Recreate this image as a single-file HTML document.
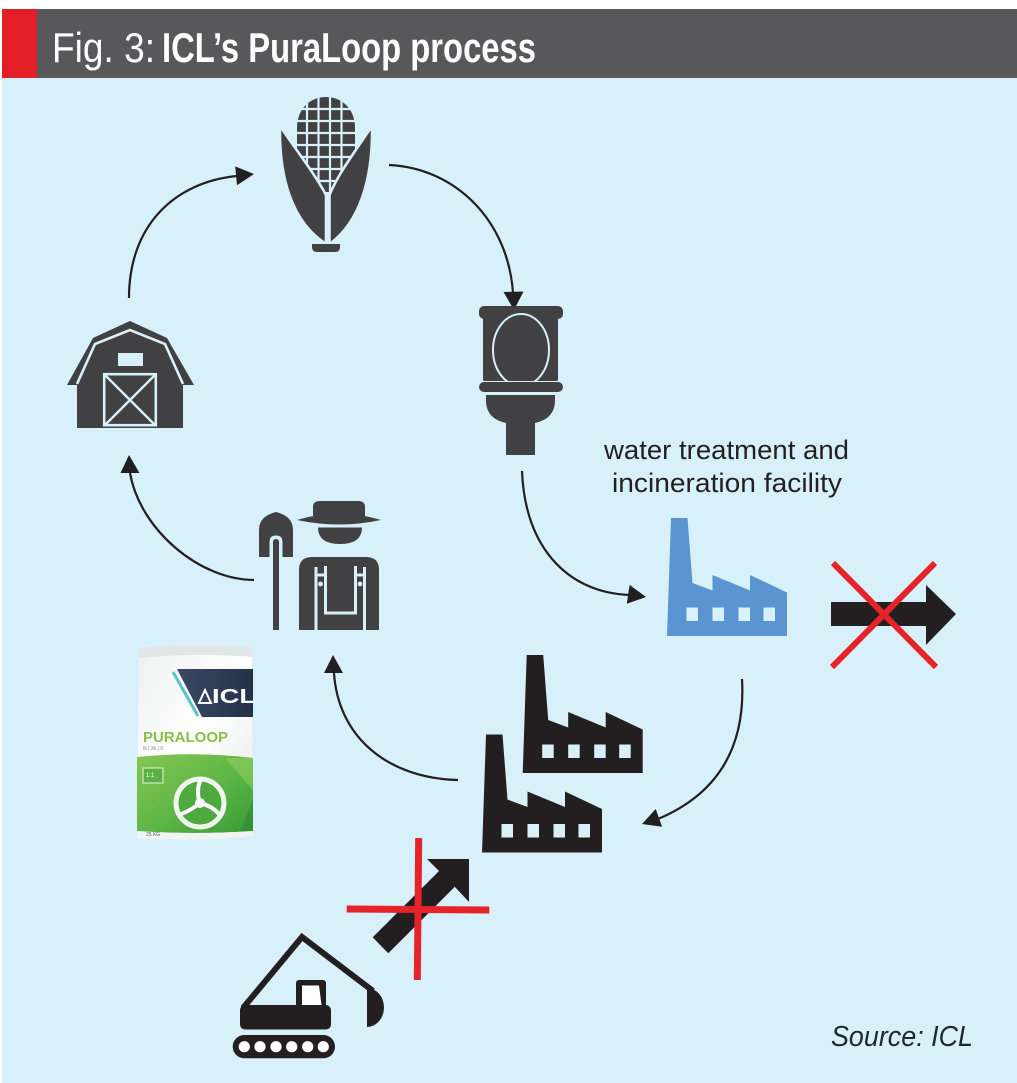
<!DOCTYPE html>
<html><head><meta charset="utf-8">
<style>
html,body{margin:0;padding:0;background:#fff;}
svg{display:block;}
</style></head>
<body>
<svg width="1017" height="1083" viewBox="0 0 1017 1083" xmlns="http://www.w3.org/2000/svg">
<defs>
<linearGradient id="bagW" x1="0" y1="0" x2="1" y2="1">
<stop offset="0" stop-color="#eef0ef"/><stop offset="0.5" stop-color="#ffffff"/><stop offset="1" stop-color="#e4e7e6"/>
</linearGradient>
<linearGradient id="navy" x1="0" y1="0" x2="1" y2="0">
<stop offset="0" stop-color="#3a4964"/><stop offset="1" stop-color="#243149"/>
</linearGradient>
<linearGradient id="grn" x1="0" y1="0" x2="1" y2="1">
<stop offset="0" stop-color="#86c653"/><stop offset="0.55" stop-color="#5cb545"/><stop offset="1" stop-color="#3a9b38"/>
</linearGradient>
</defs>

<!-- background -->
<rect x="0" y="0" width="1017" height="1083" fill="#ffffff"/>
<rect x="2" y="78" width="1015" height="1005" fill="#d8f0fa"/>
<!-- header -->
<rect x="2" y="9" width="1015" height="69" fill="#58585a"/>
<rect x="2" y="9" width="35" height="69" fill="#e31e26"/>
<text x="52" y="62" font-family="'Liberation Sans Narrow','Liberation Sans',sans-serif" font-size="42" fill="#ffffff" textLength="103" lengthAdjust="spacingAndGlyphs">Fig. 3:</text>
<text x="162" y="62" font-family="'Liberation Sans Narrow','Liberation Sans',sans-serif" font-size="42" font-weight="bold" fill="#ffffff" textLength="374" lengthAdjust="spacingAndGlyphs">ICL’s PuraLoop process</text>

<!-- arrows -->
<g fill="none" stroke="#231f20" stroke-width="2.2">
<path d="M129,298 C129,225 175,182 237,176"/>
<path d="M389,165 C455,168 508,220 513,293"/>
<path d="M522,471 C525,545 565,592 629,595"/>
<path d="M742,679 C746,750 715,795 658,819"/>
<path d="M458,780 C385,778 338,735 334,673"/>
<path d="M254,580 C200,580 140,530 130,473"/>
</g>
<g fill="#231f20">
<polygon points="254,174 235.2,166.4 237,185.3"/>
<polygon points="514,310 503.5,292 523.5,291.5"/>
<polygon points="646,597 629.6,584.9 626.8,603.7"/>
<polygon points="642,824 655.7,809 662.1,826.8"/>
<polygon points="333,655 324,673 343,673"/>
<polygon points="129,455 120.5,473 139.5,473"/>
</g>

<!-- corn -->
<g>
<path d="M297,192 L297,128 C297,108 311,97 326,97 C341,97 355,108 355,128 L355,192 Z" fill="#414042"/>
<g stroke="#d8f0fa" stroke-width="2.2">
<line x1="307" y1="95" x2="307" y2="195"/>
<line x1="318.5" y1="95" x2="318.5" y2="195"/>
<line x1="330" y1="95" x2="330" y2="195"/>
<line x1="341.5" y1="95" x2="341.5" y2="195"/>
<line x1="295" y1="109" x2="357" y2="109"/>
<line x1="295" y1="121" x2="357" y2="121"/>
<line x1="295" y1="133" x2="357" y2="133"/>
<line x1="295" y1="145" x2="357" y2="145"/>
<line x1="295" y1="157" x2="357" y2="157"/>
<line x1="295" y1="169" x2="357" y2="169"/>
<line x1="295" y1="181" x2="357" y2="181"/>
</g>
<path d="M280,126 C279,178 292,222 326,244 L326,195 C315,174 296,150 280,126 Z" fill="#414042" stroke="#d8f0fa" stroke-width="2.6" stroke-linejoin="round"/>
<path d="M372,126 C373,178 360,222 329.5,244 L329.5,195 C338,174 356,150 372,126 Z" fill="#414042" stroke="#d8f0fa" stroke-width="2.6" stroke-linejoin="round"/>
<path d="M312,244 L340,244 L340,247 Q340,252 335,252 L317,252 Q312,252 312,247 Z" fill="#414042"/>
</g>

<!-- barn -->
<g>
<polygon points="67,385 93,338 130,321 167,338 194,385 183,385 183,428 77,428 77,385" fill="#414042"/>
<polyline points="77,384 95,344 130,330 165,344 183,384" fill="none" stroke="#d8f0fa" stroke-width="2.6" stroke-linejoin="miter"/>
<rect x="118" y="353" width="25" height="13" fill="#d8f0fa"/>
<rect x="104.2" y="374.2" width="51.6" height="51" fill="none" stroke="#d8f0fa" stroke-width="2.6"/>
<line x1="105" y1="375" x2="155" y2="425" stroke="#d8f0fa" stroke-width="2.4"/>
<line x1="155" y1="375" x2="105" y2="425" stroke="#d8f0fa" stroke-width="2.4"/>
</g>

<!-- toilet -->
<g fill="#414042">
<rect x="483" y="314" width="75" height="69" rx="4"/>
<rect x="479" y="306" width="84" height="13" rx="5"/>
<ellipse cx="521" cy="350" rx="28" ry="36" fill="none" stroke="#d8f0fa" stroke-width="2"/>
<rect x="477" y="381" width="88" height="12" fill="#d8f0fa"/>
<rect x="479" y="382" width="84" height="10" rx="5"/>
<path d="M486,395 L555,395 L555,400 C555,413 548,420 535,423 L535,455 L506,455 L506,423 C493,420 486,413 486,400 Z"/>
</g>

<!-- text label -->
<text x="604" y="459" font-family="'Liberation Sans Narrow','Liberation Sans',sans-serif" font-size="27" fill="#231f20" textLength="245" lengthAdjust="spacingAndGlyphs">water treatment and</text>
<text x="612" y="492" font-family="'Liberation Sans Narrow','Liberation Sans',sans-serif" font-size="27" fill="#231f20" textLength="230" lengthAdjust="spacingAndGlyphs">incineration facility</text>

<!-- blue factory -->
<g transform="translate(667,518)">
<path d="M4,0 L20.5,0 L25.5,65 L45.5,72.5 L45.5,57 L83,72.5 L83,57 L120,74.5 L120,118 L0,118 Z" fill="#5a95d2"/>
<g fill="#d8f0fa">
<rect x="19.5" y="89.5" width="11.5" height="13.5"/>
<rect x="45.5" y="89.5" width="11.5" height="13.5"/>
<rect x="71.5" y="89.5" width="11.5" height="13.5"/>
<rect x="96.5" y="89.5" width="11.5" height="13.5"/>
</g>
</g>

<!-- back black factory -->
<g transform="translate(522.7,655)">
<path d="M4,0 L20.5,0 L25.5,65 L45.5,72.5 L45.5,57 L83,72.5 L83,57 L120,74.5 L120,118 L0,118 Z" fill="#231f20"/>
<g fill="#d8f0fa">
<rect x="19.5" y="89.5" width="11.5" height="13.5"/>
<rect x="45.5" y="89.5" width="11.5" height="13.5"/>
<rect x="71.5" y="89.5" width="11.5" height="13.5"/>
<rect x="96.5" y="89.5" width="11.5" height="13.5"/>
</g>
</g>
<!-- front black factory -->
<g transform="translate(482,734.5)">
<path d="M4,0 L20.5,0 L25.5,65 L45.5,72.5 L45.5,57 L83,72.5 L83,57 L120,74.5 L120,118 L0,118 Z" fill="#231f20"/>
<g fill="#d8f0fa">
<rect x="19.5" y="89.5" width="11.5" height="13.5"/>
<rect x="45.5" y="89.5" width="11.5" height="13.5"/>
<rect x="71.5" y="89.5" width="11.5" height="13.5"/>
<rect x="96.5" y="89.5" width="11.5" height="13.5"/>
</g>
</g>

<!-- crossed right arrow -->
<polygon points="831,602 926,602 926,585 956,614 926,645 926,626 831,626" fill="#231f20"/>
<g stroke="#e52329" stroke-width="6">
<line x1="833" y1="563" x2="936" y2="667"/>
<line x1="935" y1="563" x2="832" y2="667"/>
</g>

<!-- farmer -->
<g fill="#414042">
<path d="M259,557 L259,530 Q259,516 276,512 Q293,516 293,530 L293,557 Z"/>
<path d="M269.5,558 L269.5,542 Q269.5,535.5 276,535.5 Q282.5,535.5 282.5,542 L282.5,558 Z" fill="#d8f0fa"/>
<path d="M273,630 L273,542 Q273,539 276,539 Q279,539 279,542 L279,630 Z"/>
<path d="M313,516 L313,507 Q313,501 320,501 L358,501 Q365,501 365,507 L365,516 Z"/>
<path d="M297,520 Q339,507 381,520 Q339,529 297,520 Z"/>
<path d="M318,527.5 L362,527.5 Q362,544 340,544 Q318,544 318,527.5 Z"/>
<path d="M299,630 L299,570 Q299,557 312,557 L366,557 Q379,557 379,570 L379,630 Z"/>
</g>
<g stroke="#d8f0fa" stroke-width="3" fill="none">
<line x1="316" y1="567" x2="316" y2="631"/>
<line x1="364.5" y1="567" x2="364.5" y2="631"/>
<path d="M325.5,566 L325.5,613 L355.5,613 L355.5,566"/>
<line x1="316" y1="575" x2="325.5" y2="575"/>
<line x1="355.5" y1="575" x2="364.5" y2="575"/>
</g>
<circle cx="320.5" cy="584" r="2.4" fill="#d8f0fa"/>
<circle cx="360" cy="584" r="2.4" fill="#d8f0fa"/>

<!-- bag -->
<g>
<path d="M139,648 Q195,642 252,647 L253,836 Q195,842 137,838 Z" fill="url(#bagW)"/>
<path d="M139,648 Q195,642 252,647 L252,657 Q195,652 139,658 Z" fill="#e3e6e6"/>
<polygon points="177,669 253,669 253,717 202,717" fill="url(#navy)"/>
<line x1="173" y1="672" x2="198" y2="716" stroke="#57c3cf" stroke-width="3"/>
<path d="M199,703 L205,690 L211,703 Z" fill="none" stroke="#ffffff" stroke-width="2"/>
<text x="212" y="703" font-family="'Liberation Sans','DejaVu Sans',sans-serif" font-size="20" font-weight="bold" fill="#ffffff" textLength="44" lengthAdjust="spacingAndGlyphs">ICL</text>
<rect x="253" y="665" width="10" height="60" fill="#d8f0fa"/>
<text x="143" y="742" font-family="'Liberation Sans','DejaVu Sans',sans-serif" font-size="15" font-weight="bold" fill="#86c04a" textLength="85" lengthAdjust="spacingAndGlyphs">PURALOOP</text>
<text x="143" y="750" font-family="'Liberation Sans',sans-serif" font-size="5" fill="#8a8f90">N | 36 | 0</text>
<path d="M137,757 Q195,751 253,758 L253,831 Q195,835 137,831 Z" fill="url(#grn)"/>
<path d="M225,758 L253,758 L253,790 Z" fill="#9bd26a" opacity="0.5"/>
<path d="M240,831 L253,800 L253,831 Z" fill="#2f8a33" opacity="0.6"/>
<rect x="143" y="768" width="20" height="15" fill="#58b344" stroke="#e8f3e0" stroke-width="1"/>
<text x="146" y="777" font-family="'Liberation Sans',sans-serif" font-size="6" fill="#ffffff">1:1</text>
<circle cx="200" cy="803" r="24" fill="#4ea93f" stroke="#eef5ea" stroke-width="5"/>
<g stroke="#ffffff" stroke-width="4" fill="none" stroke-linecap="round">
<path d="M200,803 Q196,792 200,781"/>
<path d="M200,803 Q212,806 219,814"/>
<path d="M200,803 Q190,811 181,814"/>
</g>
<circle cx="200" cy="803" r="5" fill="#ffffff"/>
<path d="M137,831 Q195,835 253,831 L253,836 Q195,842 137,838 Z" fill="#f2f4f3"/>
<text x="146" y="836" font-family="'Liberation Sans',sans-serif" font-size="5" fill="#555">25 KG</text>
</g>

<!-- crossed diagonal arrow -->
<polygon points="469,859 427,859 439,871 372.7,937.3 388.3,953.3 454.8,886.8 469,902" fill="#231f20"/>
<g stroke="#e52329" stroke-width="7">
<line x1="418.7" y1="838" x2="417.3" y2="980"/>
<line x1="346.7" y1="909" x2="489.3" y2="910"/>
</g>

<!-- excavator -->
<g fill="#231f20">
<polyline points="243,1008 302,937 373,991" fill="none" stroke="#231f20" stroke-width="6" stroke-linejoin="miter"/>
<path d="M367,988 A17,19.5 0 0 1 367,1027 Z"/>
<rect x="296" y="980" width="30" height="27" rx="3"/>
<polygon points="302,985.5 319,985.5 321.5,1005 302,1005" fill="#ffffff"/>
<rect x="240" y="1005" width="91" height="24.5" rx="5"/>
<rect x="232.7" y="1035" width="102.3" height="23.3" rx="11.6"/>
<g fill="#ffffff">
<circle cx="244.3" cy="1046.7" r="5.6"/>
<circle cx="260" cy="1046.7" r="5.6"/>
<circle cx="276" cy="1046.7" r="5.6"/>
<circle cx="291.7" cy="1046.7" r="5.6"/>
<circle cx="307.7" cy="1046.7" r="5.6"/>
<circle cx="323.3" cy="1046.7" r="5.6"/>
</g>
</g>

<!-- source -->
<text x="831" y="1046" font-family="'Liberation Sans',sans-serif" font-style="italic" font-size="29" fill="#1f2a30" textLength="142" lengthAdjust="spacingAndGlyphs">Source: ICL</text>
</svg>
</body></html>
